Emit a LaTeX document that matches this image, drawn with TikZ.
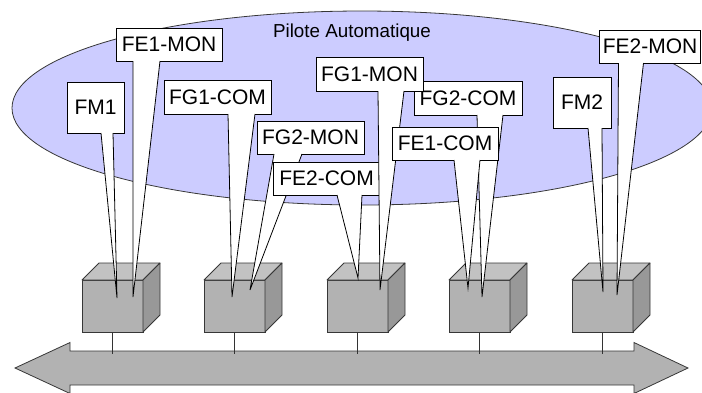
\documentclass[tikz,border=0pt]{standalone}
\usepackage{fontspec}
\setmainfont{Liberation Sans}
\usetikzlibrary{calc}
\definecolor{ellfill}{RGB}{204,204,255}
\definecolor{cubefront}{RGB}{178,178,178}
\definecolor{cubetop}{RGB}{194,194,194}
\definecolor{cuberight}{RGB}{152,152,152}
\definecolor{edgegray}{RGB}{55,55,55}
\newcommand\wedgeto[4]{%
  \fill[white] ($(#1.south west)+(#2,-0.9)$) -- (#4) -- ($(#1.south west)+(#3,-0.9)$) -- cycle;
  \draw[wedgeline] ($(#1.south west)+(#2,0)$) -- (#4) -- ($(#1.south west)+(#3,0)$);}
\newcommand\cubeat[2]{%
  \node[cubeface] (#1) at (#2,306) {};
  \draw[edgegray, line width=0.8pt, fill=cubetop, line join=round]
    (#1.north west) -- ++(17,-17) -- ++(61,0) -- (#1.north east) -- cycle;
  \draw[edgegray, line width=0.8pt, fill=cuberight, line join=round]
    (#1.north east) -- ++(17,-17) -- ++(0,52) -- (#1.south east) -- cycle;
  \draw[link] (#1.south) -- ($(#1.south)+(0,22)$);}
\begin{document}
\begin{tikzpicture}[x=1pt,y=-1pt,
  lbl/.style={draw=black, fill=white, line width=0.8pt, inner sep=0pt, outer sep=0pt,
    font=\fontsize{21}{25}\selectfont},
  wedgeline/.style={draw=black, line width=0.8pt, line join=miter},
  cubeface/.style={draw=edgegray, line width=0.8pt, fill=cubefront, minimum width=61pt,
    minimum height=52pt, inner sep=0pt, outer sep=0pt},
  link/.style={draw=black!80, line width=0.8pt},
  title/.style={font=\fontsize{18.8}{22}\selectfont, inner sep=0pt}]
\useasboundingbox (0,0) rectangle (702,392);
% ellipse
\draw[fill=ellfill, draw=edgegray, line width=0.8pt] (362,108) ellipse [x radius=350pt, y radius=97pt];
\node[title] (pa) at (352,33) {Pilote Automatique};
% bus arrow
\draw[fill=cubefront, draw=edgegray, line width=0.8pt, line join=miter]
  (15,368) -- (70,342.5) -- (70,351) -- (634,351) -- (634,342.5) -- (688,368)
  -- (634,393.5) -- (634,385) -- (70,385) -- (70,393.5) -- cycle;
% cubes
\cubeat{c1}{112.5}
\cubeat{c2}{234.5}
\cubeat{c3}{357.5}
\cubeat{c4}{479.5}
\cubeat{c5}{602.5}
% tips
\coordinate (tfma) at (117,298);
\coordinate (tfeam) at (133,297);
\coordinate (tfgac) at (232,297);
\coordinate (tfgbm) at (250,290);
\coordinate (tfebc) at (358,278);
\coordinate (tfgbc) at (482,297);
\coordinate (tfgam) at (380,290);
\coordinate (tfeac) at (468,288);
\coordinate (tfmb) at (603,292);
\coordinate (tfebm) at (617,295);
% callouts
\node[lbl, minimum width=57pt, minimum height=51pt] (fm1) at (95.5,107.5) {FM1};
\wedgeto{fm1}{34}{46}{tfma}
\node[lbl, minimum width=106pt, minimum height=33pt] (fe1mon) at (169,44.5) {FE1-MON};
\wedgeto{fe1mon}{17}{44}{tfeam}
\node[lbl, minimum width=107pt, minimum height=34pt] (fg1com) at (217.5,97) {FG1-COM};
\wedgeto{fg1com}{64}{91}{tfgac}
\node[lbl, minimum width=107pt, minimum height=33pt] (fg2mon) at (310.5,137.5) {FG2-MON};
\wedgeto{fg2mon}{17}{45}{tfgbm}
\node[lbl, minimum width=107pt, minimum height=33pt] (fe2com) at (326.5,178.5) {FE2-COM};
\wedgeto{fe2com}{64}{89}{tfebc}
\node[lbl, minimum width=108pt, minimum height=34pt] (fg2com) at (468,98) {FG2-COM};
\wedgeto{fg2com}{63}{89}{tfgbc}
\node[lbl, minimum width=107pt, minimum height=34pt] (fg1mon) at (369.5,74) {FG1-MON};
\wedgeto{fg1mon}{62}{88}{tfgam}
\node[lbl, minimum width=106pt, minimum height=33pt] (fe1com) at (445,143.5) {FE1-COM};
\wedgeto{fe1com}{62}{88}{tfeac}
\node[lbl, minimum width=58pt, minimum height=51pt] (fm2) at (582,102.5) {FM2};
\wedgeto{fm2}{35}{49}{tfmb}
\node[lbl, minimum width=101pt, minimum height=33pt] (fe2mon) at (650,46.5) {FE2-MON};
\wedgeto{fe2mon}{19}{44}{tfebm}
\end{tikzpicture}
\end{document}
